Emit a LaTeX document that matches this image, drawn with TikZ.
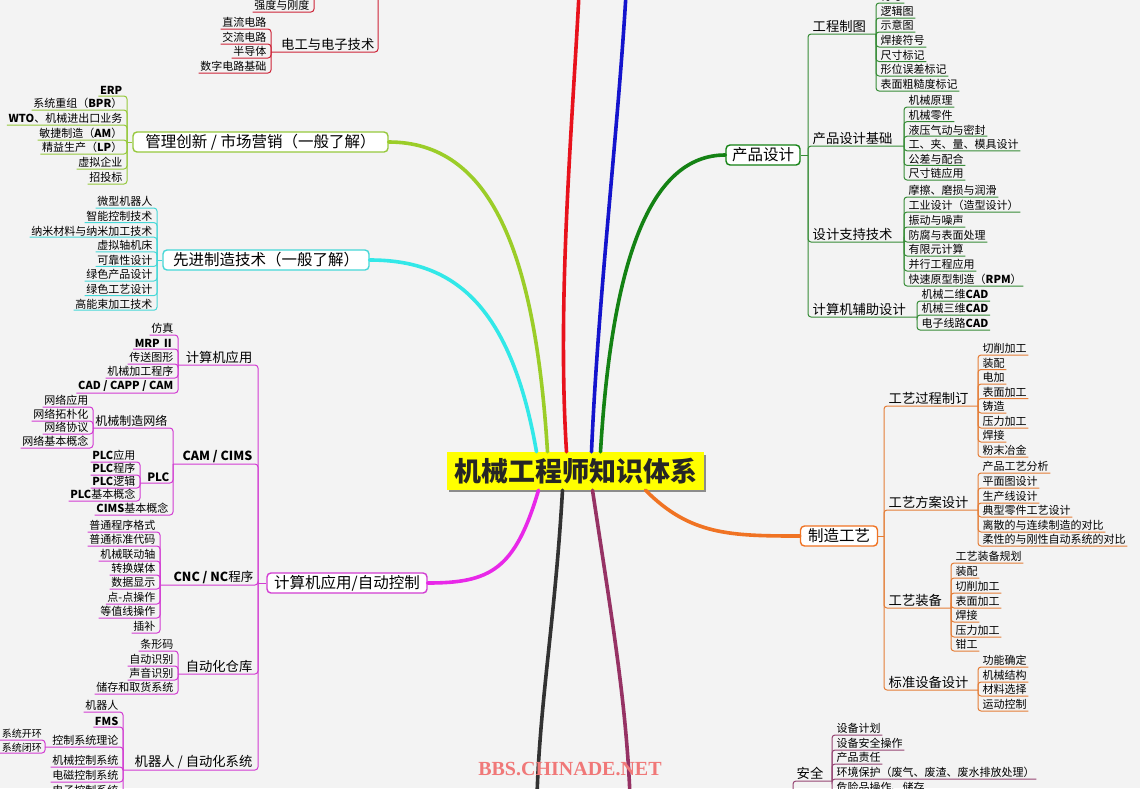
\documentclass[tikz,border=0pt]{standalone}
\usepackage{fontspec}
\setmainfont{Noto Sans CJK SC}
\newfontfamily\wmfont{Liberation Serif}
\definecolor{bgcol}{RGB}{243,243,243}
\definecolor{cYellow}{RGB}{255,255,0}
\definecolor{cRed}{RGB}{232,18,28}
\definecolor{cRedL}{RGB}{205,35,55}
\definecolor{cBlue}{RGB}{20,20,205}
\definecolor{cGreen}{RGB}{20,130,20}
\definecolor{cGreenL}{RGB}{55,140,55}
\definecolor{cYG}{RGB}{155,205,40}
\definecolor{cYGL}{RGB}{150,200,60}
\definecolor{cCyan}{RGB}{50,232,232}
\definecolor{cCyanL}{RGB}{70,215,215}
\definecolor{cMag}{RGB}{232,40,232}
\definecolor{cMagL}{RGB}{210,60,210}
\definecolor{cDark}{RGB}{50,50,50}
\definecolor{cPurp}{RGB}{150,50,100}
\definecolor{cPurpL}{RGB}{150,70,115}
\definecolor{cOrange}{RGB}{240,115,35}
\definecolor{cOrangeL}{RGB}{228,125,55}
\definecolor{cWM}{RGB}{240,120,120}
\tikzset{
  leafL/.style={anchor=south east, inner xsep=1.5pt, inner ysep=1pt, font=\fontsize{11}{12}\selectfont},
  leafR/.style={anchor=south west, inner xsep=1.5pt, inner ysep=1pt, font=\fontsize{11}{12}\selectfont},
  midL/.style={anchor=south east, inner xsep=1.5pt, inner ysep=1pt, font=\fontsize{13.3}{14}\selectfont},
  midR/.style={anchor=south west, inner xsep=1.5pt, inner ysep=1pt, font=\fontsize{13.3}{14}\selectfont},
  topbox/.style={rounded corners=4pt, fill=white, line width=1.4pt, inner sep=0pt, minimum height=20pt, font=\fontsize{15.5}{16}\selectfont},
  branch/.style={line width=3.6pt, line cap=round},
  conn/.style={line width=1pt, rounded corners=3pt},
}
\newcommand\Lleaf[4]{\node[leafL] (#1) at (#2) {#3};
  \draw[conn] (#1.south west) -- (#1.south east -| #4) -- (#4);}
\newcommand\Rleaf[4]{\node[leafR] (#1) at (#2) {#3};
  \draw[conn] (#1.south east) -- (#1.south west -| #4) -- (#4);}
\begin{document}
\begin{tikzpicture}[x=1pt,y=-1pt]
\fill[bgcol] (0,0) rectangle (1140,788);
\useasboundingbox (0,0) rectangle (1140,788);

% ---------- central node ----------
\fill[black!45] (449,455) rectangle (706,492);
\node[fill=cYellow, minimum width=257pt, minimum height=38pt, inner sep=0pt,
      font=\bfseries\fontsize{27}{29}\selectfont, text=black!85] (c) at (575.5,471) {机械工程师知识体系};

% ---------- level-1 boxes ----------
\node[topbox, draw=cYGL, minimum width=255pt] (mg) at (260.5,142) {管理创新 / 市场营销（一般了解）};
\node[topbox, draw=cCyanL, minimum width=206pt] (adv) at (266,260) {先进制造技术（一般了解）};
\node[topbox, draw=cMagL, minimum width=160pt] (ca) at (347,583) {计算机应用/自动控制};
\node[topbox, draw=cGreen, minimum width=74pt] (pd) at (763,155) {产品设计};
\node[topbox, draw=cOrange, minimum width=77pt] (zz) at (839,536) {制造工艺};

% ---------- main branches ----------
\coordinate (rtop) at (579,-6);
\coordinate (btop) at (626,-6);
\coordinate (dbot) at (537,796);
\coordinate (pbot) at (630,796);
\draw[branch, cRed] ([xshift=-9pt]c.north) .. controls (557,300) and (572,130) .. (rtop);
\draw[branch, cBlue] ([xshift=16pt]c.north) .. controls (598,300) and (618,130) .. (btop);
\draw[branch, cGreen] ([xshift=25pt]c.north) .. controls (612,260) and (650,155) .. (pd.west);
\draw[branch, cYG] ([xshift=-28pt]c.north) .. controls (535,250) and (490,142) .. (mg.east);
\draw[branch, cCyan] ([xshift=-39pt]c.north) .. controls (510,300) and (450,260) .. (adv.east);
\draw[branch, cMag] ([xshift=-37pt]c.south) .. controls (515,570) and (490,583) .. (ca.east);
\draw[branch, cDark] ([xshift=-13pt]c.south) .. controls (555,620) and (540,700) .. (dbot);
\draw[branch, cPurp] ([xshift=17pt]c.south) .. controls (612,620) and (626,700) .. (pbot);
\draw[branch, cOrange] ([xshift=70pt]c.south) .. controls (690,535) and (730,536) .. (zz.west);

% ---------- red (top left) ----------
\begin{scope}[conn/.append style={draw=cRedL}]
\coordinate (rq) at (314,-15);
\coordinate (rd) at (378,-15);
\node[leafL] (qd) at (311,12) {强度与刚度};
\draw[conn] (qd.south west) -- (qd.south east -| rq) -- (rq);
\node[midL] (dg) at (376,52) {电工与电子技术};
\coordinate (dgb) at (271,52);
\draw[conn] (dgb) -- (dgb -| rd) -- (rd);
\Lleaf{d1}{268,29}{直流电路}{dgb}
\Lleaf{d2}{268,44}{交流电路}{dgb}
\Lleaf{d3}{268,58}{半导体}{dgb}
\Lleaf{d4}{268,73}{数字电路基础}{dgb}
\end{scope}

% ---------- management ----------
\begin{scope}[conn/.append style={draw=cYGL}]
\coordinate (mgj) at (127,142);
\draw[conn] (mgj) -- (mg.west);
\Lleaf{e1}{124,96}{\textbf{ERP}}{mgj}
\Lleaf{e2}{124,110}{系统重组（\textbf{BPR}）}{mgj}
\Lleaf{e3}{124,125}{\textbf{WTO}、机械进出口业务}{mgj}
\Lleaf{e4}{124,140}{敏捷制造（\textbf{AM}）}{mgj}
\Lleaf{e5}{124,154}{精益生产（\textbf{LP}）}{mgj}
\Lleaf{e6}{124,169}{虚拟企业}{mgj}
\Lleaf{e7}{124,184}{招投标}{mgj}
\end{scope}

% ---------- advanced manufacturing ----------
\begin{scope}[conn/.append style={draw=cCyanL}]
\coordinate (avj) at (157,260);
\draw[conn] (avj) -- (adv.west);
\Lleaf{a1}{154,208}{微型机器人}{avj}
\Lleaf{a2}{154,222.6}{智能控制技术}{avj}
\Lleaf{a3}{154,237.2}{纳米材料与纳米加工技术}{avj}
\Lleaf{a4}{154,251.8}{虚拟轴机床}{avj}
\Lleaf{a5}{154,266.4}{可靠性设计}{avj}
\Lleaf{a6}{154,281}{绿色产品设计}{avj}
\Lleaf{a7}{154,295.6}{绿色工艺设计}{avj}
\Lleaf{a8}{154,310.2}{高能束加工技术}{avj}
\end{scope}

% ---------- computer / automation ----------
\begin{scope}[conn/.append style={draw=cMagL}]
\coordinate (mgb) at (258,583);
\draw[conn] (mgb) -- (ca.west);
% 计算机应用
\node[midL] (m1) at (254,365) {计算机应用};
\coordinate (m1b) at (178,365);
\draw[conn] (m1b) -- (m1b -| mgb) -- (mgb);
\Lleaf{m1a}{175,335}{仿真}{m1b}
\Lleaf{m1c}{175,349}{\textbf{MRP Ⅱ}}{m1b}
\Lleaf{m1d}{175,364}{传送图形}{m1b}
\Lleaf{m1e}{175,378}{机械加工程序}{m1b}
\Lleaf{m1f}{175,393}{\textbf{CAD / CAPP / CAM}}{m1b}
% CAM / CIMS
\node[midL, font=\bfseries\fontsize{12.5}{13}\selectfont] (m2) at (254,464) {CAM / CIMS};
\coordinate (m2b) at (173,464);
\draw[conn] (m2b) -- (m2b -| mgb) -- (mgb);
\node[leafL, font=\fontsize{12}{13}\selectfont] (m21) at (169,428) {机械制造网络};
\coordinate (m21b) at (93,428);
\draw[conn] (m21b) -- (m21b -| m2b) -- (m2b);
\Lleaf{n1}{90,407}{网络应用}{m21b}
\Lleaf{n2}{90,421}{网络拓朴化}{m21b}
\Lleaf{n3}{90,434}{网络协议}{m21b}
\Lleaf{n4}{90,448}{网络基本概念}{m21b}
\node[midL, font=\bfseries\fontsize{11.5}{12}\selectfont] (m22) at (171,483) {PLC};
\coordinate (m22b) at (140,483);
\draw[conn] (m22b) -- (m22b -| m2b) -- (m2b);
\Lleaf{p1}{137,462}{\textbf{PLC}应用}{m22b}
\Lleaf{p2}{137,475}{\textbf{PLC}程序}{m22b}
\Lleaf{p3}{137,488}{\textbf{PLC}逻辑}{m22b}
\Lleaf{p4}{137,501}{\textbf{PLC}基本概念}{m22b}
\Lleaf{m23}{170,515}{\textbf{CIMS}基本概念}{m2b}
% CNC / NC程序
\node[midL, font=\fontsize{12.5}{13}\selectfont] (m3) at (255,585) {\textbf{CNC / NC}程序};
\coordinate (m3b) at (160,585);
\draw[conn] (m3b) -- (m3b -| mgb) -- (mgb);
\Lleaf{k1}{157,532}{普通程序格式}{m3b}
\Lleaf{k2}{157,546}{普通标准代码}{m3b}
\Lleaf{k3}{157,561}{机械联动轴}{m3b}
\Lleaf{k4}{157,575}{转换媒体}{m3b}
\Lleaf{k5}{157,589}{数据显示}{m3b}
\Lleaf{k6}{157,604}{点-点操作}{m3b}
\Lleaf{k7}{157,618}{等值线操作}{m3b}
\Lleaf{k8}{157,633}{插补}{m3b}
% 自动化仓库
\node[midL] (m4) at (254,674) {自动化仓库};
\coordinate (m4b) at (178,674);
\draw[conn] (m4b) -- (m4b -| mgb) -- (mgb);
\Lleaf{w1}{175,651}{条形码}{m4b}
\Lleaf{w2}{175,666}{自动识别}{m4b}
\Lleaf{w3}{175,680}{声音识别}{m4b}
\Lleaf{w4}{175,694}{储存和取货系统}{m4b}
% 机器人 / 自动化系统
\node[midL] (m5) at (254,770) {机器人 / 自动化系统};
\coordinate (m5b) at (123,770);
\draw[conn] (m5b) -- (m5b -| mgb) -- (mgb);
\Lleaf{r1}{120,712}{机器人}{m5b}
\Lleaf{r2}{120,727}{\textbf{FMS}}{m5b}
\node[leafL] (r3) at (120,747) {控制系统理论};
\coordinate (r3b) at (45,747);
\draw[conn] (r3b) -- (r3b -| m5b) -- (m5b);
\Lleaf{t1}{43.5,740}{\fontsize{10}{11}\selectfont 系统开环}{r3b}
\Lleaf{t2}{43.5,753}{\fontsize{10}{11}\selectfont 系统闭环}{r3b}
\Lleaf{r4}{120,767}{机械控制系统}{m5b}
\Lleaf{r5}{120,782}{电磁控制系统}{m5b}
\Lleaf{r6}{120,797}{电子控制系统}{m5b}
\end{scope}

% ---------- product design ----------
\begin{scope}[conn/.append style={draw=cGreenL}]
\coordinate (gb) at (808,155);
\draw[conn] (gb) -- (pd.east);
\node[midR] (g1) at (811,34) {工程制图};
\coordinate (g1b) at (876,34);
\draw[conn] (g1b) -- (g1b -| gb) -- (gb);
\Rleaf{g1z}{879,3}{符号}{g1b}
\Rleaf{g1a}{879,18}{逻辑图}{g1b}
\Rleaf{g1c}{879,32}{示意图}{g1b}
\Rleaf{g1d}{879,47}{焊接符号}{g1b}
\Rleaf{g1e}{879,61.5}{尺寸标记}{g1b}
\Rleaf{g1f}{879,76}{形位误差标记}{g1b}
\Rleaf{g1g}{879,91}{表面粗糙度标记}{g1b}
\node[midR] (g2) at (811,146) {产品设计基础};
\coordinate (g2b) at (904,146);
\draw[conn] (g2b) -- (g2b -| gb) -- (gb);
\Rleaf{h1}{907,107}{机械原理}{g2b}
\Rleaf{h2}{907,121.6}{机械零件}{g2b}
\Rleaf{h3}{907,136.2}{液压气动与密封}{g2b}
\Rleaf{h4}{907,150.8}{工、夹、量、模具设计}{g2b}
\Rleaf{h5}{907,165.4}{公差与配合}{g2b}
\Rleaf{h6}{907,180}{尺寸链应用}{g2b}
\node[midR] (g3) at (811,242) {设计支持技术};
\coordinate (g3b) at (904,242);
\draw[conn] (g3b) -- (g3b -| gb) -- (gb);
\Rleaf{s1}{907,197}{摩擦、磨损与润滑}{g3b}
\Rleaf{s2}{907,212}{工业设计（造型设计）}{g3b}
\Rleaf{s3}{907,227}{振动与噪声}{g3b}
\Rleaf{s4}{907,242}{防腐与表面处理}{g3b}
\Rleaf{s5}{907,256}{有限元计算}{g3b}
\Rleaf{s6}{907,271}{并行工程应用}{g3b}
\Rleaf{s7}{907,286}{快速原型制造（\textbf{RPM}）}{g3b}
\node[midR] (g4) at (811,317) {计算机辅助设计};
\coordinate (g4b) at (917,317);
\draw[conn] (g4b) -- (g4b -| gb) -- (gb);
\Rleaf{u1}{920,301}{机械二维\textbf{CAD}}{g4b}
\Rleaf{u2}{920,315}{机械三维\textbf{CAD}}{g4b}
\Rleaf{u3}{920,330}{电子线路\textbf{CAD}}{g4b}
\end{scope}

% ---------- manufacturing process ----------
\begin{scope}[conn/.append style={draw=cOrangeL}]
\coordinate (ob) at (884,536);
\draw[conn] (ob) -- (zz.east);
\node[midR] (o1) at (887,406) {工艺过程制订};
\coordinate (o1b) at (978,406);
\draw[conn] (o1b) -- (o1b -| ob) -- (ob);
\Rleaf{x1}{981,355}{切削加工}{o1b}
\Rleaf{x2}{981,369.5}{装配}{o1b}
\Rleaf{x3}{981,384}{电加}{o1b}
\Rleaf{x4}{981,398.5}{表面加工}{o1b}
\Rleaf{x5}{981,413}{铸造}{o1b}
\Rleaf{x6}{981,428}{压力加工}{o1b}
\Rleaf{x7}{981,442}{焊接}{o1b}
\Rleaf{x8}{981,457}{粉末冶金}{o1b}
\node[midR] (o2) at (887,510) {工艺方案设计};
\coordinate (o2b) at (978,510);
\draw[conn] (o2b) -- (o2b -| ob) -- (ob);
\Rleaf{y1}{981,473}{产品工艺分析}{o2b}
\Rleaf{y2}{981,488}{平面图设计}{o2b}
\Rleaf{y3}{981,503}{生产线设计}{o2b}
\Rleaf{y4}{981,517}{典型零件工艺设计}{o2b}
\Rleaf{y5}{981,532}{离散的与连续制造的对比}{o2b}
\Rleaf{y6}{981,546}{柔性的与刚性自动系统的对比}{o2b}
\node[midR] (o3) at (887,608) {工艺装备};
\coordinate (o3b) at (951,608);
\draw[conn] (o3b) -- (o3b -| ob) -- (ob);
\Rleaf{z1}{954,563}{工艺装备规划}{o3b}
\Rleaf{z2}{954,578}{装配}{o3b}
\Rleaf{z3}{954,593}{切削加工}{o3b}
\Rleaf{z4}{954,608}{表面加工}{o3b}
\Rleaf{z5}{954,622}{焊接}{o3b}
\Rleaf{z6}{954,637}{压力加工}{o3b}
\Rleaf{z7}{954,651}{钳工}{o3b}
\node[midR] (o4) at (887,690) {标准设备设计};
\coordinate (o4b) at (978,690);
\draw[conn] (o4b) -- (o4b -| ob) -- (ob);
\Rleaf{v1}{981,667}{功能确定}{o4b}
\Rleaf{v2}{981,682}{机械结构}{o4b}
\Rleaf{v3}{981,696}{材料选择}{o4b}
\Rleaf{v4}{981,711}{运动控制}{o4b}
\end{scope}

% ---------- safety (purple) ----------
\begin{scope}[conn/.append style={draw=cPurpL}]
\coordinate (pb) at (793,800);
\node[midR] (aq) at (795,781) {安全};
\coordinate (aqb) at (832,781);
\draw[conn] (aqb) -- (aqb -| pb) -- (pb);
\Rleaf{q1}{835,735}{设备计划}{aqb}
\Rleaf{q2}{835,750}{设备安全操作}{aqb}
\Rleaf{q3}{835,764}{产品责任}{aqb}
\Rleaf{q4}{835,779}{环境保护（废气、废渣、废水排放处理）}{aqb}
\Rleaf{q5}{835,794}{危险品操作、储存}{aqb}
\end{scope}

% ---------- watermark ----------
\node[text=cWM, font=\wmfont\bfseries\fontsize{20}{21}\selectfont, inner sep=0pt] (wm) at (570,769) {BBS.CHINADE.NET};
\end{tikzpicture}
\end{document}
